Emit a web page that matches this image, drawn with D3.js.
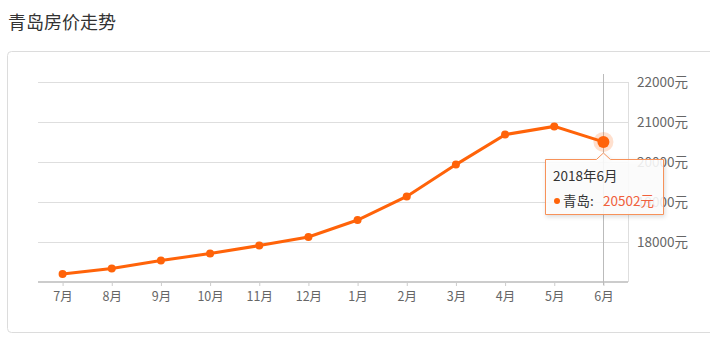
<!DOCTYPE html>
<html lang="zh">
<head>
<meta charset="UTF-8" />
<title>青岛房价走势</title>
<style>
  body { margin: 0; background: #fff; font-family: "Noto Sans CJK SC", sans-serif; }
  text { font-family: "Noto Sans CJK SC", sans-serif; }
  .grid line { stroke: #dedede; stroke-width: 1px; }
  .data-line { fill: none; stroke: #ff6309; stroke-width: 3px; }
  .dot { fill: #ff6309; }
</style>
</head>
<body>
<script src="https://cdn.jsdelivr.net/npm/d3@7"></script>
<script>

var months = ["7月", "8月", "9月", "10月", "11月", "12月", "1月", "2月", "3月", "4月", "5月", "6月"];
var prices = [17200, 17335, 17540, 17710, 17910, 18125, 18550, 19140, 19935, 20685, 20890, 20502];
var yTicks = [18000, 19000, 20000, 21000, 22000];
var title = "青岛房价走势";
var cityName = "青岛";
var tipDate = "2018年6月";

var w = 710, h = 339;
var margin = { top: 82, right: 82, bottom: 57, left: 38 };

var svg = d3.select("body").append("svg")
  .attr("width", w)
  .attr("height", h);

// title
svg.append("text")
  .attr("x", 8)
  .attr("y", 29)
  .attr("fill", "#333")
  .style("font-size", "18px")
  .text(title);

// panel border
svg.append("rect")
  .attr("x", 7.5)
  .attr("y", 51.5)
  .attr("width", 720)
  .attr("height", 281)
  .attr("rx", 4)
  .attr("fill", "none")
  .attr("stroke", "#dcdcdc");

var xScale = d3.scalePoint()
  .domain(months)
  .range([margin.left, w - margin.right])
  .padding(0.5);

var yScale = d3.scaleLinear()
  .domain([17000, 22000])
  .range([h - margin.bottom, margin.top]);

// horizontal gridlines
var grid = svg.append("g").attr("class", "grid");
grid.selectAll("line")
  .data(yTicks)
  .enter()
  .append("line")
  .attr("x1", margin.left)
  .attr("x2", w - margin.right)
  .attr("y1", function(d) { return Math.round(yScale(d)) + 0.5; })
  .attr("y2", function(d) { return Math.round(yScale(d)) + 0.5; });

// right edge of plot
grid.append("line")
  .attr("x1", w - margin.right + 0.5)
  .attr("x2", w - margin.right + 0.5)
  .attr("y1", yScale(22000))
  .attr("y2", yScale(17000));

// x axis
var xAxis = d3.axisBottom(xScale).tickSize(4).tickPadding(6);
var gx = svg.append("g")
  .attr("transform", "translate(0," + yScale(17000) + ")")
  .call(xAxis);
gx.select(".domain").attr("stroke", "#ccc").attr("stroke-width", 2)
  .attr("d", "M" + margin.left + ",0H" + (w - margin.right));
gx.selectAll(".tick line").attr("stroke", "#ccc");
gx.selectAll(".tick text").attr("fill", "#666").style("font-size", "12.5px");

// y axis labels on right
var yAxis = d3.axisRight(yScale).tickValues(yTicks).tickSize(0).tickPadding(9)
  .tickFormat(function(d) { return d + "元"; });
var gy = svg.append("g")
  .attr("transform", "translate(" + (w - margin.right) + ",0)")
  .call(yAxis);
gy.select(".domain").remove();
gy.selectAll(".tick text").attr("fill", "#666").style("font-size", "13.5px");

// crosshair on last month
var last = months.length - 1;
var cx = xScale(months[last]);
svg.append("line")
  .attr("x1", Math.round(cx) + 0.5)
  .attr("x2", Math.round(cx) + 0.5)
  .attr("y1", yScale(22000) - 8)
  .attr("y2", yScale(17000) + 3)
  .attr("stroke", "#bbb");

// line
var line = d3.line()
  .x(function(d, i) { return xScale(months[i]); })
  .y(function(d) { return yScale(d); });

svg.append("path")
  .datum(prices)
  .attr("class", "data-line")
  .attr("d", line);

svg.selectAll("circle.dot")
  .data(prices)
  .enter()
  .append("circle")
  .attr("class", "dot")
  .attr("cx", function(d, i) { return xScale(months[i]); })
  .attr("cy", function(d) { return yScale(d); })
  .attr("r", 4);

// highlighted point
var cy = yScale(prices[last]);
svg.append("circle")
  .attr("cx", cx).attr("cy", cy).attr("r", 10)
  .attr("fill", "rgba(255,99,9,0.2)");
svg.append("circle")
  .attr("cx", cx).attr("cy", cy).attr("r", 6)
  .attr("fill", "#ff6309");

// tooltip
var tx = 545, ty = 159, tw = 118, th = 55;
var tip = svg.append("g");
tip.append("path")
  .attr("d", "M" + (tx + 0.5) + "," + (ty + 0.5) +
    "H" + (cx - 7) + "L" + cx + "," + (ty - 6) + "L" + (cx + 7) + "," + (ty + 0.5) +
    "H" + (tx + tw + 0.5) + "V" + (ty + th + 0.5) + "H" + (tx + 0.5) + "Z")
  .attr("fill", "rgba(255,255,255,0.88)")
  .attr("stroke", "#f7925a")
  .style("filter", "drop-shadow(1px 2px 2px rgba(0,0,0,0.15))");

tip.append("text")
  .attr("x", tx + 8)
  .attr("y", ty + 22)
  .attr("fill", "#333")
  .style("font-size", "13.5px")
  .text(tipDate);

tip.append("circle")
  .attr("cx", tx + 12)
  .attr("cy", ty + 42)
  .attr("r", 3)
  .attr("fill", "#ff6309");

tip.append("text")
  .attr("x", tx + 18)
  .attr("y", ty + 47)
  .attr("fill", "#333")
  .style("font-size", "13.5px")
  .text(cityName + ":");

tip.append("text")
  .attr("x", tx + 58)
  .attr("y", ty + 47)
  .attr("fill", "#f0603c")
  .style("font-size", "13.5px")
  .text(prices[last] + "元");

</script>
</body>
</html>
